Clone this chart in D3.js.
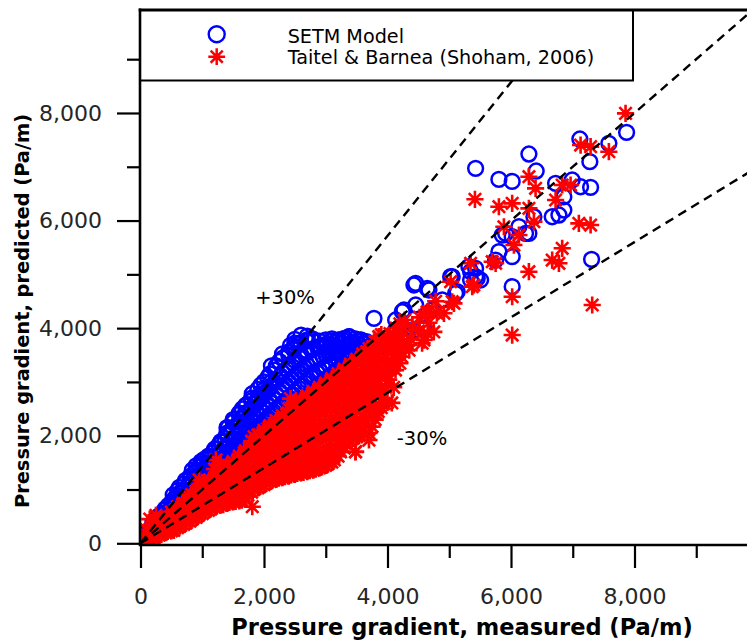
<!DOCTYPE html>
<html>
<head>
<meta charset="utf-8">
<script src="https://cdn.jsdelivr.net/npm/d3@7"></script>
<style>
  body { margin: 0; background: #fff; }
  svg { display: block; }
</style>
</head>
<body>
<svg id="chart" width="747" height="641"></svg>
<script>
// Axis ticks
const xTicks = [0, 2000, 4000, 6000, 8000];
const yTicks = [0, 2000, 4000, 6000, 8000];
const xMinorTicks = [1000, 3000, 5000, 7000, 9000];
const yMinorTicks = [1000, 3000, 5000, 7000, 9000];

const seriesNames = ["SETM Model", "Taitel & Barnea (Shoham, 2006)"];
const bandLabels = ["+30%", "-30%"];
// Reference lines: upper bound, perfect agreement, lower bound
const bandFactors = [1 / 0.7, 1, 0.7];

// [measured, predicted] pressure gradient, Pa/m
const setmData = [
  [50,70],[60,110],[140,170],[160,240],[120,200],
  [240,260],[260,350],[250,430],[200,300],
  [340,370],[360,470],[350,560],[310,420],
  [440,470],[460,590],[450,700],[420,640],
  [540,570],[560,700],[550,830],[530,900],[580,760],
  [640,680],[660,800],[650,940],[630,1040],[690,870],
  [740,780],[760,900],[750,1040],[730,1170],[780,980],
  [840,880],[860,1010],[850,1150],[870,1300],[840,1360],[820,1230],
  [940,980],[960,1120],[950,1270],[970,1420],[980,1520],[920,1350],
  [1040,1090],[1060,1230],[1050,1390],[1030,1560],[1080,1480],
  [1140,1180],[1160,1340],[1150,1510],[1170,1680],[1220,1760],[1110,1600],
  [1240,1280],[1260,1450],[1250,1630],[1270,1830],[1300,1700],
  [1340,1380],[1360,1560],[1350,1750],[1370,1950],[1400,2050],[1320,1880],
  [1440,1480],[1460,1670],[1450,1870],[1470,2080],[1500,2250],[1420,2150],
  [1540,1580],[1560,1780],[1550,1990],[1570,2200],[1520,2300],[1600,2400],
  [1640,1680],[1660,1890],[1650,2110],[1670,2330],[1650,2500],[1700,2420],
  [1740,1780],[1760,2000],[1750,2230],[1770,2460],[1800,2650],[1720,2580],
  [1840,1880],[1860,2110],[1850,2350],[1870,2590],[1810,2780],[1900,2700],
  [1940,1980],[1960,2220],[1950,2470],[1970,2720],[1950,2940],[2000,2850],
  [2040,2080],[2060,2330],[2050,2590],[2070,2850],[2060,3080],[2100,2980],
  [2140,2180],[2160,2440],[2150,2710],[2170,2980],[2180,3220],[2120,3300],
  [2240,2280],[2260,2550],[2250,2830],[2270,3110],[2250,3380],[2300,3520],
  [2340,2380],[2360,2660],[2350,2950],[2370,3240],[2400,3500],[2430,3680],
  [2440,2480],[2460,2770],[2450,3060],[2470,3350],[2480,3600],[2500,3720],
  [2540,2580],[2560,2880],[2550,3170],[2570,3450],[2560,3700],[2600,3870],
  [2640,2680],[2660,2980],[2650,3270],[2670,3540],[2690,3760],[2700,3850],
  [2740,2780],[2760,3080],[2750,3360],[2770,3600],[2760,3810],
  [2840,2880],[2860,3170],[2850,3430],[2870,3640],[2900,3760],
  [2940,2980],[2960,3250],[2950,3480],[2970,3670],[3000,3780],
  [3040,3080],[3060,3320],[3050,3520],[3070,3700],[3100,3800],
  [3140,3180],[3160,3390],[3150,3570],[3170,3740],[3210,3780],
  [3240,3280],[3260,3460],[3250,3620],[3270,3780],
  [3340,3380],[3360,3530],[3350,3680],[3380,3840],
  [3440,3470],[3460,3600],[3450,3730],[3480,3800],
  [3540,3560],[3560,3680],[3570,3780],
  [3640,3620],[3660,3750],[3700,3590],[3780,3690],
  [3600,2850],[3810,2910],[3860,2610],[3700,3100],[3500,3000],[1600,1300],[1500,1350],
  [3781,4183],[4428,4802],[4643,4740],[5048,4956],[5129,4677],[5318,5142],[5427,4956],
  [4266,4337],[4132,4151],[4428,3965],[4320,3872],[4132,3965],[3781,3686],[3565,3779],
  [3376,3841],[3214,3779],[3700,3593],[3861,3407],[3991,3655],[4213,3779],[4590,4002],
  [5427,6971],[5804,6764],[6019,6727],[6290,7237],[6408,6921],[7115,7516],[7277,7094],
  [7585,7436],[7872,7640],[6722,6692],[6856,6443],[6991,6754],[7127,6629],[7289,6618],
  [6776,6103],[6667,6071],[6856,6196],[6371,6071],[6290,5763],[6128,5886],[6019,5700],
  [5913,5763],[5804,5421],[6019,5328],[5751,5266],[5427,5111],[5346,4895],[5508,4895],
  [5022,4956],[5103,4648],[4456,4833],[4671,4709],[4886,4523],[4456,4430],[4724,4337],
  [4239,4305],[6019,4770],[7305,5280],[5858,5731],[6236,5763],[5453,4926],[5346,5049]
];

// Additional SETM cases grouped by measured value: [measured, [predicted, ...]]
const setmRows = [
  [100,[130,200]],[200,[220,310,380]],[300,[320,420,510]],[400,[420,530,640]],
  [500,[520,640,760]],[600,[620,750,880,980]],[700,[730,850,990,1100]],
  [800,[830,950,1100,1240]],[900,[930,1060,1210,1350,1440]],[1000,[1030,1180,1330,1480]],
  [1100,[1130,1280,1450,1620]],[1200,[1230,1390,1570,1750]],[1300,[1330,1500,1690,1890]],
  [1400,[1430,1610,1810,2010,2150]],[1500,[1530,1720,1930,2140,2300]],
  [1600,[1630,1830,2050,2260,2420]],[1700,[1730,1940,2170,2390,2560]],
  [1800,[1830,2060,2290,2520,2700]],[1900,[1930,2170,2410,2650,2860]],
  [2000,[2030,2280,2530,2790,3000]],[2100,[2130,2390,2650,2910,3150]],
  [2200,[2230,2500,2770,3040,3300]],[2300,[2330,2600,2890,3170,3440]],
  [2400,[2430,2710,3000,3290,3560]],[2500,[2530,2820,3110,3400,3660,3790]],
  [2600,[2630,2930,3220,3500,3730]],[2700,[2730,3030,3310,3570,3780]],
  [2800,[2830,3120,3400,3620,3790]],[2900,[2930,3210,3450,3660]],
  [3000,[3030,3290,3500,3700]],[3100,[3130,3350,3550,3760]],[3200,[3230,3420,3600,3770]],
  [3300,[3330,3500,3650,3810]],[3400,[3420,3570,3700,3820]],[3500,[3510,3640,3760]],
  [3600,[3590,3710]],[3700,[3650]]
];

const taitelData = [
  [40,30],[60,80],[140,60],[160,120],[150,180],[150,450],[250,520],
  [240,120],[260,200],[250,280],
  [340,170],[360,260],[350,350],[330,420],
  [440,220],[460,300],[450,400],[430,480],
  [540,240],[560,330],[550,430],[530,540],[570,620],
  [640,320],[660,420],[650,520],[630,640],[680,720],
  [740,380],[760,470],[750,580],[730,700],[770,800],
  [840,450],[860,560],[850,680],[870,810],[830,900],
  [940,520],[960,640],[950,760],[970,880],[930,1000],[950,1180],
  [1040,590],[1060,700],[1050,830],[1070,960],[1030,1090],
  [1140,640],[1160,760],[1150,900],[1170,1040],[1130,1170],
  [1240,700],[1260,820],[1250,960],[1270,1110],[1230,1260],[1220,1550],
  [1340,720],[1360,850],[1350,1000],[1370,1160],[1330,1320],[1380,1400],
  [1440,760],[1460,900],[1450,1060],[1470,1220],[1430,1400],
  [1540,780],[1560,930],[1550,1100],[1570,1270],[1530,1450],[1580,1560],
  [1640,800],[1660,970],[1650,1150],[1670,1330],[1630,1520],[1680,1680],
  [1740,900],[1760,1050],[1750,1220],[1770,1400],[1730,1580],[1760,1760],
  [1840,1000],[1860,1130],[1850,1300],[1870,1480],[1830,1660],[1850,1850],[1840,1980],[1810,680],
  [1940,1060],[1960,1200],[1950,1380],[1970,1560],[1930,1740],[1960,1920],[1990,2050],
  [2040,1120],[2060,1270],[2050,1450],[2070,1630],[2030,1820],[2060,2000],[2080,2150],
  [2140,1180],[2160,1330],[2150,1510],[2170,1700],[2130,1900],[2160,2080],[2180,2230],
  [2240,1210],[2260,1380],[2250,1570],[2270,1770],[2230,1970],[2260,2160],[2290,2320],
  [2340,1240],[2360,1420],[2350,1630],[2370,1840],[2330,2040],[2360,2250],[2390,2420],
  [2440,1270],[2460,1460],[2450,1680],[2470,1900],[2430,2110],[2460,2330],[2480,2560],[2430,2690],
  [2540,1300],[2560,1500],[2550,1730],[2570,1960],[2530,2180],[2560,2410],[2580,2620],
  [2640,1320],[2660,1540],[2650,1780],[2670,2020],[2630,2250],[2660,2480],[2690,2700],
  [2740,1350],[2760,1580],[2750,1830],[2770,2080],[2730,2320],[2760,2560],[2790,2780],
  [2840,1380],[2860,1620],[2850,1880],[2870,2140],[2830,2390],[2860,2640],[2890,2860],
  [2940,1420],[2960,1660],[2950,1930],[2970,2200],[2930,2460],[2960,2720],[2990,2940],
  [3040,1480],[3060,1720],[3050,1990],[3070,2260],[3030,2530],[3060,2800],[3090,3020],
  [3140,1550],[3160,1790],[3150,2050],[3170,2320],[3130,2600],[3160,2880],[3190,3100],
  [3240,1700],[3260,1900],[3250,2140],[3270,2400],[3230,2680],[3260,2960],[3290,3200],
  [3340,1850],[3360,2050],[3350,2260],[3370,2500],[3330,2760],[3360,3040],[3390,3280],
  [3480,1700],[3440,1950],[3460,2200],[3450,2400],[3470,2600],[3430,2850],[3460,3120],[3490,3380],
  [3540,2000],[3560,2300],[3550,2550],[3570,2750],[3530,2950],[3560,3200],[3590,3460],
  [3700,1920],[3640,2200],[3660,2500],[3650,2720],[3670,3000],[3630,3300],[3660,3560],
  [3750,2170],[3810,2420],[3740,2700],[3770,3000],[3730,3350],[3760,3650],
  [3850,2450],[3870,2750],[3840,3050],[3860,3350],[3880,3640],[3860,3840],
  [3950,2600],[3970,2900],[4020,3040],[3960,3450],[3980,3700],
  [4070,2610],[4060,3250],[4070,3650],[4040,3900],
  [4130,3220],[4150,3500],[4160,3780],[4140,4000],
  [4230,3470],[4260,3700],[4250,3950],[4280,4150],
  [4350,3590],[4370,3800],[4400,4030],
  [4560,3720],[4500,3950],[4520,4200],
  [4650,3900],[4670,4100],[4640,4300],
  [4750,3930],[4800,4280],[4780,4500],
  [7855,7993],[7127,7404],[7289,7373],[7585,7280],[6290,6815],[6398,6599],[5416,6395],
  [5804,6257],[6019,6320],[6829,6661],[6965,6661],[6722,6382],[6290,6227],[6371,5978],
  [5885,5885],[6128,5731],[6047,5545],[7099,5948],[7289,5917],[6829,5484],[6667,5266],
  [6776,5205],[6290,5049],[5751,5205],[5346,5205],[5399,4802],[5022,4863],[5076,4461],
  [6019,4584],[7315,4430],[4643,4276],[6019,3872],[5696,5235],
  [5372,4770],[5048,4491],[4914,4276],[4671,4305],[4590,3779],[4400,4027],[4347,3686],
  [4132,3593],[3861,3841],[3672,3346],[3429,3222],[3970,3160],[3484,1703],[3646,2725]
];

// Additional Taitel & Barnea cases grouped by measured value
const taitelRows = [
  [100,[100,250]],[200,[100,190,300]],[300,[150,230,320,390]],[400,[200,280,370,450]],
  [500,[230,310,400,490,580]],[600,[290,380,480,590,680]],[700,[350,440,560,680,760]],
  [800,[410,520,640,760,860]],[900,[480,600,720,840,960]],[1000,[550,670,800,930,1050,1130]],
  [1100,[610,730,870,1010,1140]],[1200,[670,790,930,1080,1220,1380]],
  [1300,[710,840,980,1140,1300,1460]],[1400,[740,880,1030,1190,1360,1450]],
  [1500,[770,920,1080,1250,1420,1520]],[1600,[790,950,1120,1300,1490,1620]],
  [1700,[850,1010,1190,1370,1550,1720]],[1800,[950,1090,1260,1440,1620,1800,1900]],
  [1900,[1030,1170,1340,1520,1700,1880,2010]],[2000,[1090,1230,1410,1590,1780,1960,2100]],
  [2100,[1150,1300,1480,1660,1860,2040,2190]],[2200,[1190,1350,1540,1740,1930,2120,2280]],
  [2300,[1220,1400,1600,1800,2000,2200,2370]],[2400,[1250,1440,1650,1870,2080,2290,2500]],
  [2500,[1280,1480,1700,1930,2150,2370,2590]],[2600,[1310,1520,1750,1990,2220,2440,2660]],
  [2700,[1330,1560,1800,2050,2290,2520,2740]],[2800,[1360,1600,1850,2110,2360,2600,2820]],
  [2900,[1400,1640,1900,2170,2430,2680,2900]],[3000,[1450,1690,1960,2230,2500,2760,2980]],
  [3100,[1510,1750,2020,2290,2560,2840,3060]],[3200,[1620,1840,2090,2360,2640,2920,3150]],
  [3300,[1770,1970,2200,2450,2720,3000,3240]],[3400,[1900,2120,2330,2550,2800,3080,3330]],
  [3500,[1980,2250,2480,2680,2900,3160,3420]],[3600,[2080,2350,2620,2860,3100,3380,3520]],
  [3700,[2050,2320,2600,2860,3180,3480,3620]],[3800,[2300,2580,2880,3200,3500,3750]],
  [3900,[2520,2820,3100,3400,3670,3880]],[4000,[2620,2950,3300,3560,3800]],
  [4100,[2900,3350,3620,3880]],[4200,[3350,3600,3860,4080]]
];

const expand = rows => rows.flatMap(([m, ps]) => ps.map(p => [m, p]));
const setmAll = setmData.concat(expand(setmRows));
const taitelAll = taitelData.concat(expand(taitelRows));

const svg = d3.select("#chart");
const W = 747, H = 641;
const plot = { left: 140, top: 10, right: 747, bottom: 545 };

const x = d3.scaleLinear().domain([0, 10000]).range([140.5, 758]);
const y = d3.scaleLinear().domain([0, 10000]).range([543.3, 5.4]);

svg.append("defs").append("clipPath").attr("id", "plotClip")
  .append("rect")
  .attr("x", plot.left).attr("y", plot.top)
  .attr("width", plot.right - plot.left).attr("height", plot.bottom - plot.top);

const area = svg.append("g").attr("clip-path", "url(#plotClip)");

// SETM model: open blue circles
area.append("g").selectAll("circle").data(setmAll).join("circle")
  .attr("cx", d => x(d[0])).attr("cy", d => y(d[1])).attr("r", 7.4)
  .attr("fill", "none").attr("stroke", "#0000ff").attr("stroke-width", 2.5);

// Taitel & Barnea: red asterisks
const starSize = 8.6;
function starPath(s) {
  const d = s * 0.72;
  return `M${-s},0L${s},0M0,${-s}L0,${s}M${-d},${-d}L${d},${d}M${-d},${d}L${d},${-d}`;
}
area.append("g").selectAll("path").data(taitelAll).join("path")
  .attr("transform", d => `translate(${x(d[0])},${y(d[1])})`)
  .attr("d", starPath(starSize))
  .attr("fill", "none").attr("stroke", "#ff0000").attr("stroke-width", 2.6);

// Agreement lines
area.append("g").selectAll("line").data(bandFactors).join("line")
  .attr("x1", x(0)).attr("y1", y(0))
  .attr("x2", x(10000)).attr("y2", k => y(10000 * k))
  .attr("stroke", "#000").attr("stroke-width", 2.4)
  .attr("stroke-dasharray", "9,6");

// Band annotations
svg.append("text").attr("x", 285).attr("y", 304).attr("text-anchor", "middle")
  .style("font-family", "DejaVu Sans").style("font-size", "19.5px").attr("fill", "#000")
  .text(bandLabels[0]);
svg.append("text").attr("x", 422).attr("y", 445).attr("text-anchor", "middle")
  .style("font-family", "DejaVu Sans").style("font-size", "19.5px").attr("fill", "#000")
  .text(bandLabels[1]);

// Legend
const leg = svg.append("g");
leg.append("rect").attr("x", 140).attr("y", 10).attr("width", 493).attr("height", 70.5)
  .attr("fill", "#fff").attr("stroke", "#000").attr("stroke-width", 2);
leg.append("circle").attr("cx", 216.7).attr("cy", 34.3).attr("r", 8)
  .attr("fill", "none").attr("stroke", "#0000ff").attr("stroke-width", 2.4);
leg.append("path").attr("transform", "translate(216.7,56.7)").attr("d", starPath(8.4))
  .attr("fill", "none").attr("stroke", "#ff0000").attr("stroke-width", 2.5);
leg.selectAll("text.lg").data(seriesNames).join("text").attr("class", "lg")
  .attr("x", 287.7).attr("y", (d, i) => 42.5 + i * 21.8)
  .style("font-family", "DejaVu Sans").style("font-size", "19.2px").attr("fill", "#000")
  .text(d => d);

// Axes
const fmt = d3.format(",");
const yAxis = svg.append("g").attr("transform", `translate(${plot.left},0)`);
yAxis.call(d3.axisLeft(y).tickValues(yTicks).tickSize(23).tickPadding(15).tickFormat(fmt));
yAxis.append("g").call(d3.axisLeft(y).tickValues(yMinorTicks).tickSize(13).tickFormat(""));
const xAxis = svg.append("g").attr("transform", `translate(0,${plot.bottom})`);
xAxis.call(d3.axisBottom(x).tickValues(xTicks).tickSize(23).tickPadding(12).tickFormat(fmt));
xAxis.append("g").call(d3.axisBottom(x).tickValues(xMinorTicks).tickSize(13).tickFormat(""));
svg.selectAll(".domain").remove();
svg.selectAll(".tick line").attr("stroke", "#000").attr("stroke-width", 2.2);
svg.selectAll(".tick text")
  .style("font-family", "DejaVu Sans").style("font-size", "22px").attr("fill", "#262626");
xAxis.selectAll(".tick text").attr("dy", null).attr("y", 58.5);

// Frame lines
svg.append("line").attr("x1", plot.left).attr("x2", plot.left)
  .attr("y1", plot.top - 1.5).attr("y2", plot.bottom + 1.2)
  .attr("stroke", "#000").attr("stroke-width", 2.6);
svg.append("line").attr("x1", plot.left).attr("x2", W)
  .attr("y1", plot.bottom).attr("y2", plot.bottom)
  .attr("stroke", "#000").attr("stroke-width", 2.6);
svg.append("line").attr("x1", plot.left - 1.3).attr("x2", W)
  .attr("y1", plot.top).attr("y2", plot.top)
  .attr("stroke", "#000").attr("stroke-width", 3);

// Axis titles
svg.append("text").attr("x", 462).attr("y", 635).attr("text-anchor", "middle")
  .style("font-family", "DejaVu Sans").style("font-weight", "bold").style("font-size", "22.5px")
  .attr("fill", "#000").text("Pressure gradient, measured (Pa/m)");
svg.append("text").attr("transform", "translate(29,311) rotate(-90)").attr("text-anchor", "middle")
  .style("font-family", "DejaVu Sans").style("font-weight", "bold").style("font-size", "19.4px")
  .attr("fill", "#000").text("Pressure gradient, predicted (Pa/m)");
</script>
</body>
</html>
